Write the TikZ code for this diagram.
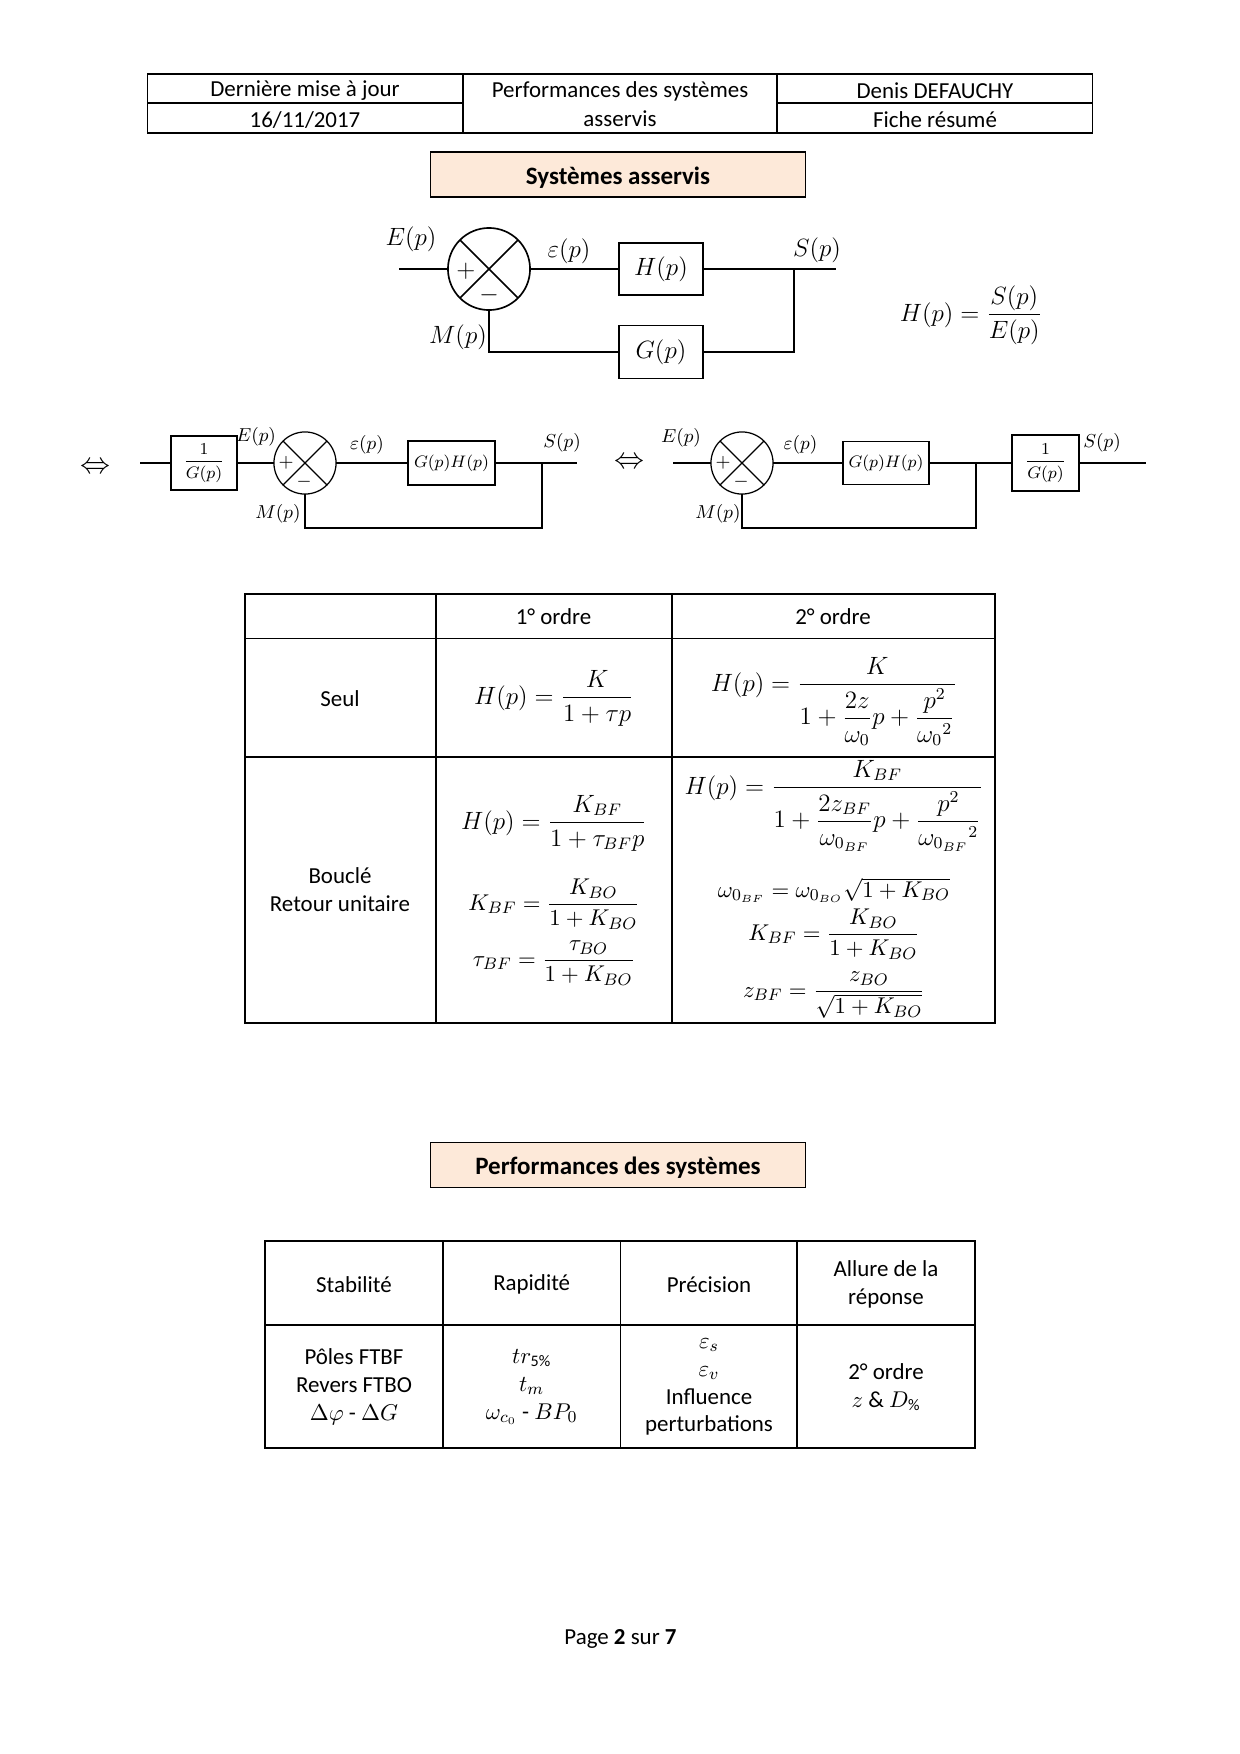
\documentclass[tikz,border=0pt,11pt]{standalone}
\usepackage{amsmath}
\usepackage{fontspec}
\setmainfont{Carlito}
\definecolor{peach}{HTML}{FDE9D9}
\begin{document}
\begin{tikzpicture}[x=0.48pt,y=-0.48pt,
 every node/.style={inner sep=0pt, outer sep=0pt},
 ln/.style={line width=0.6pt},
 lnA/.style={line width=0.8pt},
 lnB/.style={line width=0.6pt},
 blkA/.style={draw, line width=0.8pt, font=\fontsize{12}{14}\selectfont},
 blkB/.style={draw, line width=0.7pt, font=\fontsize{8}{10}\selectfont},
 sumA/.style={draw, circle, line width=0.8pt, minimum size=39.4pt},
 sumB/.style={draw, circle, line width=0.6pt, minimum size=29.8pt},
 lblA/.style={font=\fontsize{12}{14}\selectfont},
 lblB/.style={font=\fontsize{9}{11}\selectfont},
 titlebox/.style={draw, fill=peach, line width=0.7pt, minimum width=180.2pt, minimum height=21.5pt},
 titletxt/.style={font=\fontsize{12}{14}\selectfont\bfseries},
 txt/.style={font=\fontsize{11}{13.4}\selectfont, align=center},
 fml/.style={anchor=base, font=\fontsize{12}{14}\selectfont},
 fmls/.style={anchor=base, font=\fontsize{11}{13}\selectfont},
 equiv/.style={font=\Large},
]
\useasboundingbox (0,0) rectangle (1240,1754);
\fill[white] (0,0) rectangle (1240,1754);

% ---------- header table
\draw[ln] (147.6,74) rectangle (1092.4,133);
\draw[ln] (463,74) -- (463,133);
\draw[ln] (777,74) -- (777,133);
\draw[ln] (147.6,103) -- (463,103);
\draw[ln] (777,103) -- (1092.4,103);
\node[txt] (h11) at (305,91) {Dernière mise à jour};
\node[txt] (h21) at (305,120) {16/11/2017};
\node[txt] (h12) at (620,91) {Performances des systèmes};
\node[txt] (h22) at (620,119) {asservis};
\node[txt] (h13) at (935,91) {Denis DEFAUCHY};
\node[txt] (h23) at (935,120) {Fiche résumé};

% ---------- title 1
\node[titlebox] (t1) at (618,174.5) {};
\node[titletxt] (t1t) at (618,177.5) {Systèmes asservis};

% ---------- diagram 1
\node[sumA] (s1) at (489,269) {};
\draw[lnA] (s1.45) -- (s1.225);
\draw[lnA] (s1.135) -- (s1.315);
\node[lblA] (p1) at (466,271) {$+$};
\node[lblA] (m1) at (489,295) {$-$};
\node[blkA, minimum width=40.3pt, minimum height=25pt] (h1) at (661,269) {$H(p)$};
\node[blkA, minimum width=40.3pt, minimum height=25.4pt] (g1) at (661,352) {$G(p)$};
\coordinate (in1) at (399,269);
\coordinate (out1) at (836,269);
\coordinate (br1) at (794,269);
\draw[lnA] (in1) -- (s1);
\draw[lnA] (s1) -- (h1);
\draw[lnA] (h1) -- (out1);
\draw[lnA] (br1) |- (g1);
\draw[lnA] (g1) -| (s1);
\node[lblA] (e1) at (411,239) {$E(p)$};
\node[lblA] (eps1) at (569,251) {$\varepsilon(p)$};
\node[lblA] (sp1) at (817,250) {$S(p)$};
\node[lblA] (mp1) at (458,337) {$M(p)$};
\node[fml] (hf) at (971,321) {$\displaystyle H(p)=\frac{S(p)}{E(p)}$};

% ---------- diagram 2
\node[equiv] (eq2) at (95,468) {$\Leftrightarrow$};
\coordinate (in2) at (140,463);
\node[blkB, minimum width=31.7pt, minimum height=26pt] (ig2) at (204,463) {$\dfrac{1}{G(p)}$};
\node[sumB] (s2) at (305,463) {};
\draw[lnB] (s2.45) -- (s2.225);
\draw[lnB] (s2.135) -- (s2.315);
\node[lblB] (p2) at (286,463) {$+$};
\node[lblB] (m2) at (304,482) {$-$};
\node[blkB, minimum width=41.8pt, minimum height=21pt] (gh2) at (451.5,463) {$G(p)H(p)$};
\coordinate (out2) at (577,463);
\coordinate (br2) at (542,463);
\coordinate (fb2) at (542,528);
\draw[lnB] (in2) -- (ig2);
\draw[line width=1pt] (ig2) -- (s2);
\draw[lnB] (s2) -- (gh2);
\draw[line width=1pt] (gh2) -- (out2);
\draw[lnB] (br2) -- (fb2) -| (s2);
\node[lblB] (e2) at (256,437) {$E(p)$};
\node[lblB] (eps2) at (367,445) {$\varepsilon(p)$};
\node[lblB] (sp2) at (562,443) {$S(p)$};
\node[lblB] (mp2) at (278,514) {$M(p)$};

% ---------- diagram 3
\node[equiv] (eq3) at (629.5,463) {$\Leftrightarrow$};
\coordinate (in3) at (673,463);
\node[sumB] (s3) at (742,463) {};
\draw[lnB] (s3.45) -- (s3.225);
\draw[lnB] (s3.135) -- (s3.315);
\node[lblB] (p3) at (723,463) {$+$};
\node[lblB] (m3) at (741,482) {$-$};
\node[blkB, minimum width=41.3pt, minimum height=20.6pt] (gh3) at (886,463) {$G(p)H(p)$};
\coordinate (br3) at (976,463);
\coordinate (fb3) at (976,528);
\node[blkB, line width=0.9pt, minimum width=32.2pt, minimum height=26.9pt] (ig3) at (1045.5,463) {$\dfrac{1}{G(p)}$};
\coordinate (out3) at (1146,463);
\draw[lnB] (in3) -- (s3);
\draw[line width=1pt] (s3) -- (gh3);
\draw[lnB] (gh3) -- (ig3);
\draw[line width=1pt] (ig3) -- (out3);
\draw[lnB] (br3) -- (fb3) -| (s3);
\node[lblB] (e3) at (681,438) {$E(p)$};
\node[lblB] (eps3) at (800.5,445) {$\varepsilon(p)$};
\node[lblB] (sp3) at (1102,443) {$S(p)$};
\node[lblB] (mp3) at (718,514) {$M(p)$};

% ---------- table 1
\draw[ln] (245,594) rectangle (995,1023);
\draw[ln] (436,594) -- (436,1023);
\draw[ln] (672,594) -- (672,1023);
\draw[ln] (245,638.5) -- (995,638.5);
\draw[ln] (245,757) -- (995,757);
\node[txt] (c01) at (553.5,617) {1° ordre};
\node[txt] (c02) at (833,617) {2° ordre};
\node[txt] (r1) at (340,699) {Seul};
\node[txt] (r2) at (340,890) {Bouclé\\Retour unitaire};
\node[fml] (f11) at (554,704) {$\displaystyle H(p)=\frac{K}{1+\tau p}$};
\node[fml] (f12) at (834,691) {$\displaystyle H(p)=\frac{K}{1+\dfrac{2z}{\omega_0}p+\dfrac{p^2}{{\omega_0}^2}}$};
\node[fml] (f21) at (554,829) {$\displaystyle H(p)=\frac{K_{BF}}{1+\tau_{BF}p}$};
\node[fmls] (f22) at (554,910) {$\displaystyle K_{BF}=\frac{K_{BO}}{1+K_{BO}}$};
\node[fmls] (f23) at (554,966) {$\displaystyle \tau_{BF}=\frac{\tau_{BO}}{1+K_{BO}}$};
\node[fml] (g21) at (834,794) {$\displaystyle H(p)=\frac{K_{BF}}{1+\dfrac{2z_{BF}}{\omega_{0_{BF}}}p+\dfrac{p^2}{{\omega_{0_{BF}}}^2}}$};
\node[fmls] (g22) at (834,897) {$\omega_{0_{BF}}=\omega_{0_{BO}}\sqrt{1+K_{BO}}$};
\node[fmls] (g23) at (834,940) {$\displaystyle K_{BF}=\frac{K_{BO}}{1+K_{BO}}$};
\node[fmls] (g24) at (834,997) {$\displaystyle z_{BF}=\frac{z_{BO}}{\sqrt{1+K_{BO}}}$};

% ---------- title 2
\node[titlebox] (t2) at (618,1165) {};
\node[titletxt] (t2t) at (618,1168) {Performances des systèmes};

% ---------- table 2
\draw[ln] (265,1241) rectangle (975,1448);
\draw[ln] (443,1241) -- (443,1448);
\draw[ln] (620.5,1241) -- (620.5,1448);
\draw[ln] (797,1241) -- (797,1448);
\draw[ln] (265,1325) -- (975,1325);
\node[txt] (q1) at (354,1284.5) {Stabilité};
\node[txt] (q2) at (531.7,1284.5) {Rapidité};
\node[txt] (q3) at (709,1284.5) {Précision};
\node[txt] (q4) at (886,1284.5) {Allure de la\\réponse};
\node[txt] (a1) at (354,1387) {Pôles FTBF\\Revers FTBO\\$\Delta\varphi$ - $\Delta G$};
\node[txt] (a2) at (531.7,1387) {$tr_{\mathrm{5\%}}$\\$t_m$\\$\omega_{c_0}$ - $BP_0$};
\node[txt] (a3) at (709,1387) {$\varepsilon_s$\\$\varepsilon_v$\\Influence\\perturbations};
\node[txt] (a4) at (886,1387) {2° ordre\\$z$ \& $D_{\%}$};

% ---------- footer
\node[txt] (foot) at (620.5,1639) {Page \textbf{2} sur \textbf{7}};
\end{tikzpicture}
\end{document}
